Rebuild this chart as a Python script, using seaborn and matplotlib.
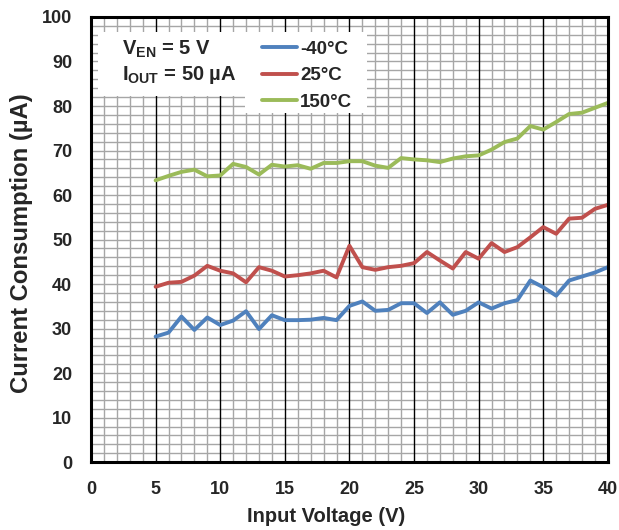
import numpy as np
import pandas as pd
import matplotlib
matplotlib.use("Agg")
import matplotlib.pyplot as plt
import seaborn as sns
from matplotlib.ticker import MultipleLocator
from matplotlib.patches import Rectangle

# ---- data ----
vin = list(range(5, 41))
cur_m40 = [28.2, 29.1, 32.7, 29.7, 32.5, 30.8, 31.8, 33.9, 29.9, 33.0,
           31.9, 31.9, 32.0, 32.4, 31.9, 35.1, 36.1, 34.0, 34.2, 35.7,
           35.7, 33.5, 35.9, 33.1, 34.0, 35.9, 34.5, 35.7, 36.4, 40.8,
           39.3, 37.4, 40.8, 41.7, 42.6, 43.8]
cur_25 = [39.4, 40.3, 40.5, 41.9, 44.1, 43.0, 42.4, 40.4, 43.8, 43.0,
          41.7, 42.0, 42.4, 43.0, 41.5, 48.6, 43.8, 43.2, 43.8, 44.1,
          44.7, 47.2, 45.3, 43.5, 47.2, 45.7, 49.2, 47.2, 48.3, 50.5,
          52.8, 51.3, 54.7, 54.9, 56.9, 57.8]
cur_150 = [63.3, 64.3, 65.2, 65.7, 64.2, 64.4, 67.0, 66.3, 64.6, 66.8,
           66.4, 66.7, 65.9, 67.2, 67.2, 67.6, 67.6, 66.6, 66.1, 68.3,
           68.0, 67.8, 67.4, 68.2, 68.7, 68.9, 70.2, 71.9, 72.7, 75.5,
           74.7, 76.4, 78.2, 78.5, 79.6, 80.7]
series_names = ["-40°C", "25°C", "150°C"]
series_colors = ["#4F81BD", "#C0504D", "#9BBB59"]
xticks = [0, 5, 10, 15, 20, 25, 30, 35, 40]
yticks = [0, 10, 20, 30, 40, 50, 60, 70, 80, 90, 100]
xlabel = "Input Voltage (V)"
ylabel = "Current Consumption (µA)"
cond_line1 = "V$_{\\mathbf{EN}}$ = 5 V"
cond_line2 = "I$_{\\mathbf{OUT}}$ = 50 µA"

df = pd.DataFrame({
    "Vin": vin * 3,
    "I": cur_m40 + cur_25 + cur_150,
    "T": [series_names[0]] * len(vin) + [series_names[1]] * len(vin) + [series_names[2]] * len(vin),
})

sns.set_style("white")
plt.rcParams["font.family"] = ["Liberation Sans", "DejaVu Sans"]
plt.rcParams["font.weight"] = "bold"
plt.rcParams["mathtext.fontset"] = "custom"
plt.rcParams["mathtext.rm"] = "Liberation Sans:bold"
plt.rcParams["mathtext.bf"] = "Liberation Sans:bold"

fig = plt.figure(figsize=(6.19, 5.30), dpi=100)
ax = fig.add_axes([0.147, 0.128, 0.835, 0.840])

sns.lineplot(data=df, x="Vin", y="I", hue="T", palette=series_colors,
             hue_order=series_names, linewidth=2.8, ax=ax, zorder=5,
             legend=True)

ax.set_xlim(0, 40)
ax.set_ylim(0, 100)
ax.set_xticks(xticks)
ax.set_yticks(yticks)
ax.xaxis.set_minor_locator(MultipleLocator(1))
ax.yaxis.set_minor_locator(MultipleLocator(2))

ax.grid(which="minor", axis="both", color="#A6A6A6", linewidth=1.0, linestyle="-")
ax.grid(which="major", axis="y", color="#A6A6A6", linewidth=1.0, linestyle="-")
ax.grid(which="major", axis="x", color="black", linewidth=1.0, linestyle="-")
ax.set_axisbelow(True)
# horizontal (gray) grid below the vertical grid so black lines stay solid
ax.yaxis.set_zorder(0.4)
ax.xaxis.set_zorder(0.6)

ax.tick_params(axis="both", which="both", length=0, labelsize=13)
ax.tick_params(axis="x", which="major", pad=13.5)
ax.tick_params(axis="y", which="major", length=3, direction="out", pad=10.5)
for lbl in ax.get_xticklabels() + ax.get_yticklabels():
    lbl.set_fontweight("bold")

for sp in ax.spines.values():
    sp.set_visible(True)
    sp.set_color("black")
    sp.set_linewidth(2.2)
    sp.set_zorder(10)

ax.set_xlabel(xlabel, fontsize=14.5, fontweight="bold")
ax.xaxis.set_label_coords(0.455, -0.121)
ax.xaxis.label.set_va("center")
ax.set_ylabel(ylabel, fontsize=17.2, fontweight="bold")
ax.yaxis.set_label_coords(-0.135, 0.492)
ax.yaxis.label.set_va("center")

# white background boxes behind the condition text and legend
ax.add_patch(Rectangle((0.0135, 0.822), 0.29, 0.144, transform=ax.transAxes,
                       facecolor="white", edgecolor="none", zorder=3))
ax.add_patch(Rectangle((0.298, 0.784), 0.236, 0.182, transform=ax.transAxes,
                       facecolor="white", edgecolor="none", zorder=3))

ax.text(0.060, 0.915, cond_line1, transform=ax.transAxes, fontsize=14.5,
        fontweight="bold", va="baseline", ha="left", zorder=8)
ax.text(0.060, 0.859, cond_line2, transform=ax.transAxes, fontsize=14.5,
        fontweight="bold", va="baseline", ha="left", zorder=8)

leg = ax.legend(loc="upper left", bbox_to_anchor=(0.331, 0.947), frameon=False,
                fontsize=13.5, handlelength=1.87, handletextpad=0.16,
                labelspacing=0.5, borderpad=0.0, borderaxespad=0.0, title=None)
leg.set_zorder(9)
for t in leg.get_texts():
    t.set_fontweight("bold")
for h in leg.get_lines():
    h.set_linewidth(2.8)

fig.savefig("out.png", dpi=100)
